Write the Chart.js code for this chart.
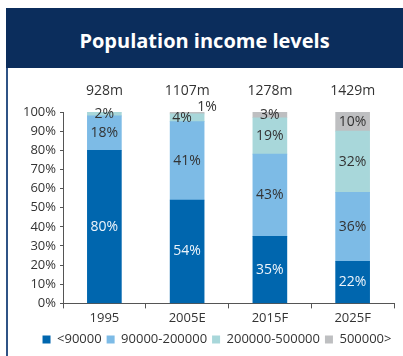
<!DOCTYPE html>
<html>
<head>
<meta charset="utf-8">
<script src="https://cdn.jsdelivr.net/npm/chart.js@4.4.1/dist/chart.umd.min.js"></script>
<style>
  body { margin: 0; background: #fff; width: 403px; height: 356px; overflow: hidden; }
  #frame { position: absolute; left: 6px; top: 8px; width: 397px; height: 348px; border-left: 2px solid #2f5386; }
  #title { position: absolute; left: 6px; top: 8px; width: 397px; height: 60px; background: #0b2d5c;
    color: #fff; font: bold 20px "Open Sans", sans-serif; text-align: center; line-height: 66px; }
  #wrap { position: absolute; left: 8px; top: 68px; width: 395px; height: 288px; }
</style>
</head>
<body>
<div id="frame"></div>
<div id="title">Population income levels</div>
<div id="wrap"><canvas id="incomeChart"></canvas></div>
<script>
const years = ["1995", "2005E", "2015F", "2025F"];
const totals = ["928m", "1107m", "1278m", "1429m"];
const bandLabels = ["<90000", "90000-200000", "200000-500000", "500000>"];
const under90k = [80, 54, 35, 22];
const from90kTo200k = [18, 41, 43, 36];
const from200kTo500k = [2, 4, 19, 32];
const over500k = [0, 1, 3, 10];

const bandColors = ["#0066ae", "#7dbbe6", "#a8d7da", "#bebfc1"];
const FONT = "'Open Sans', sans-serif";

// nudges for the thin slices whose labels would overlap
const labelNudge = { "1-2": [-5, 0], "1-3": [20, -6] };

const segmentLabels = {
  id: "segmentLabels",
  afterLayout(chart) {
    // centre the legend under the plot rather than the whole canvas
    chart.legend.left += 16;
    chart.legend.right += 16;
  },
  afterDatasetsDraw(chart) {
    const ctx = chart.ctx;
    ctx.save();
    ctx.font = "14px " + FONT;
    ctx.textAlign = "center";
    ctx.textBaseline = "middle";
    chart.data.datasets.forEach((ds, di) => {
      const meta = chart.getDatasetMeta(di);
      meta.data.forEach((bar, i) => {
        const v = ds.data[i];
        if (!v) return;
        const nudge = labelNudge[i + "-" + di] || [0, 0];
        const y = (bar.y + bar.base) / 2;
        ctx.fillStyle = di === 0 ? "#eef5fb" : "#333";
        ctx.fillText(v + "%", bar.x + nudge[0], y + nudge[1]);
      });
    });
    // population totals above each column
    const first = chart.getDatasetMeta(0);
    ctx.fillStyle = "#333";
    first.data.forEach((bar, i) => {
      ctx.fillText(totals[i], bar.x, chart.chartArea.top - 21);
    });
    ctx.restore();
  }
};

const datasets = [under90k, from90kTo200k, from200kTo500k, over500k].map((d, i) => ({
  label: bandLabels[i],
  data: d,
  backgroundColor: bandColors[i],
  barThickness: 34,
}));

new Chart(document.getElementById("incomeChart"), {
  type: "bar",
  data: { labels: years, datasets: datasets },
  options: {
    responsive: true,
    maintainAspectRatio: false,
    animation: false,
    layout: { padding: { top: 44, right: 9, left: 0, bottom: 0 } },
    plugins: {
      legend: {
        position: "bottom",
        labels: {
          boxWidth: 8,
          boxHeight: 8,
          padding: 5,
          color: "#333",
          font: { family: FONT, size: 13 },
        },
      },
      tooltip: { enabled: false },
    },
    scales: {
      x: {
        stacked: true,
        grid: { display: true, drawOnChartArea: false, tickLength: 5, color: "#555", offset: true },
        border: { color: "#555" },
        ticks: { color: "#333", font: { family: FONT, size: 13 }, padding: 2 },
      },
      y: {
        stacked: true,
        min: 0,
        max: 100,
        afterFit: (scale) => { scale.width = 55; },
        grid: { display: true, drawOnChartArea: false, tickLength: 3, color: "#555" },
        border: { color: "#555" },
        ticks: {
          stepSize: 10,
          autoSkip: false,
          color: "#333",
          font: { family: FONT, size: 13 },
          padding: 4,
          callback: (v) => v + "%",
        },
      },
    },
  },
  plugins: [segmentLabels],
});
</script>
</body>
</html>
